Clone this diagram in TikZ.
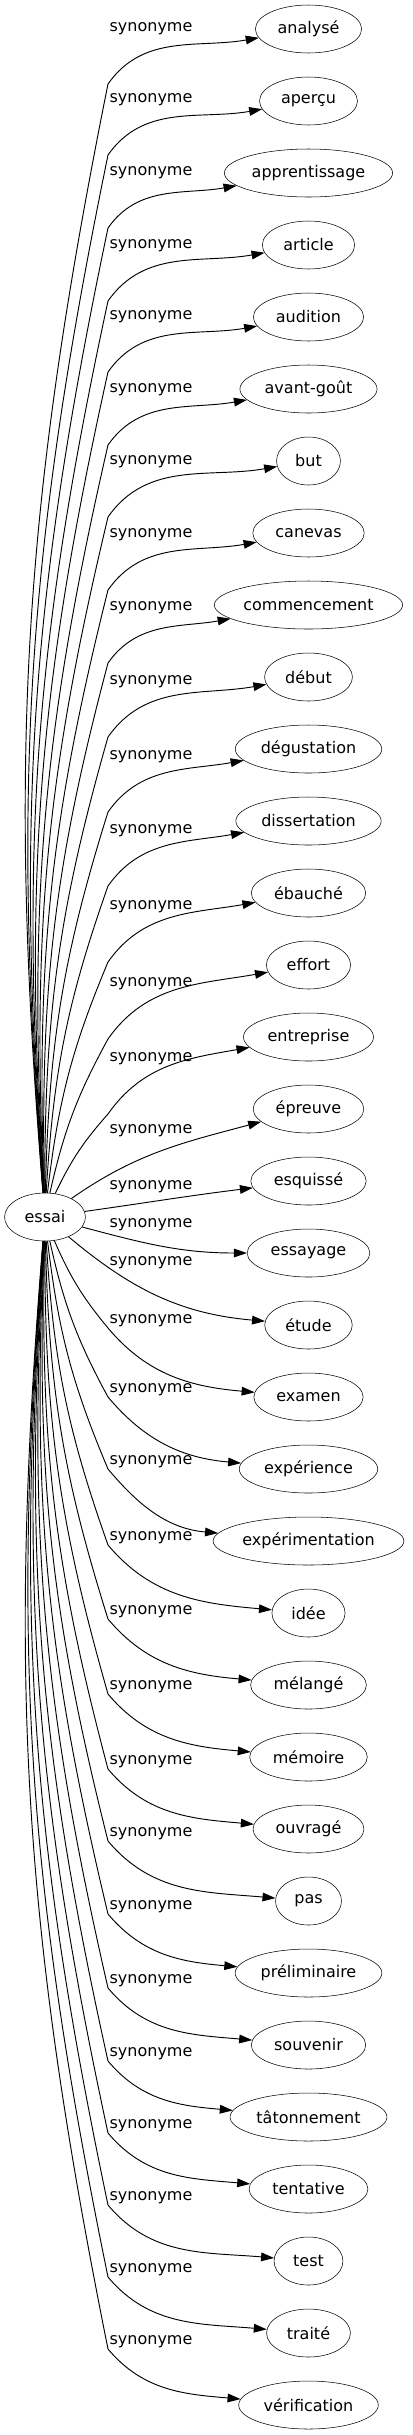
\documentclass[tikz,border=0pt]{standalone}
\usepackage{fontspec}
\setmainfont{DejaVu Sans}
\usetikzlibrary{arrows.meta, shapes.geometric}

\begin{document}
\fontsize{12}{14}\selectfont
\begin{tikzpicture}[x=.75pt, y=-.75pt,
        word/.style={draw, ellipse, inner sep=0pt, minimum height=36pt},
        rel/.style={inner sep=0pt},
        edge/.style={line width=.7pt, -{Triangle[length=9.75pt, width=6.5pt]}}]
            \useasboundingbox (0,0) rectangle (413,2435);

            \pgfmathsetmacro\wordwidth{1.2*width("essai")+24}
            \node [word, minimum width=\wordwidth pt] (Essai) at (45,1217) {essai};

            % words on the right, one label per edge in the middle column
            \foreach \txt/\ly [count=\i from 0] in {analysé/29, aperçu/100,
                apprentissage/173, article/246, audition/317, avant-goût/390,
                but/462, canevas/535, commencement/608, début/682,
                dégustation/757, dissertation/831, ébauché/907, effort/984,
                entreprise/1059, épreuve/1131, esquissé/1187, essayage/1225,
                étude/1263, examen/1321, expérience/1390,
                expérimentation/1462, idée/1538, mélangé/1612, mémoire/1687,
                ouvragé/1762, pas/1834, préliminaire/1907, souvenir/1981,
                tâtonnement/2054, tentative/2126, test/2198, traité/2270,
                vérification/2342} {
                \pgfmathsetmacro\wordwidth{1.2*width("\txt")+24}
                \node [word, minimum width=\wordwidth pt] (S\i) at (308.5,{29+72*\i}) {\txt};
                \node [rel] (SName\i) at (151,\ly) {synonyme};
                \ifnum\i<17
                    \coordinate (V\i) at (108,{\ly+55});
                \else
                    \coordinate (V\i) at (108,{\ly+7});
                \fi
            }

            \foreach \i in {0,...,14}
                \draw [edge] (Essai) to[bend left=8] (V\i) to[out=55, in=190] (S\i);
            \draw [edge] (Essai) to[out=35, in=195] (S15);
            \draw [edge] (Essai) to[out=8, in=187] (S16);
            \draw [edge] (Essai) to[out=-15, in=180] (S17);
            \draw [edge] (Essai) to[out=-40, in=175] (S18);
            \foreach \i in {19,...,33}
                \draw [edge] (Essai) to[bend right=8] (V\i) to[out=-50, in=175] (S\i);

        \end{tikzpicture}
\end{document}
